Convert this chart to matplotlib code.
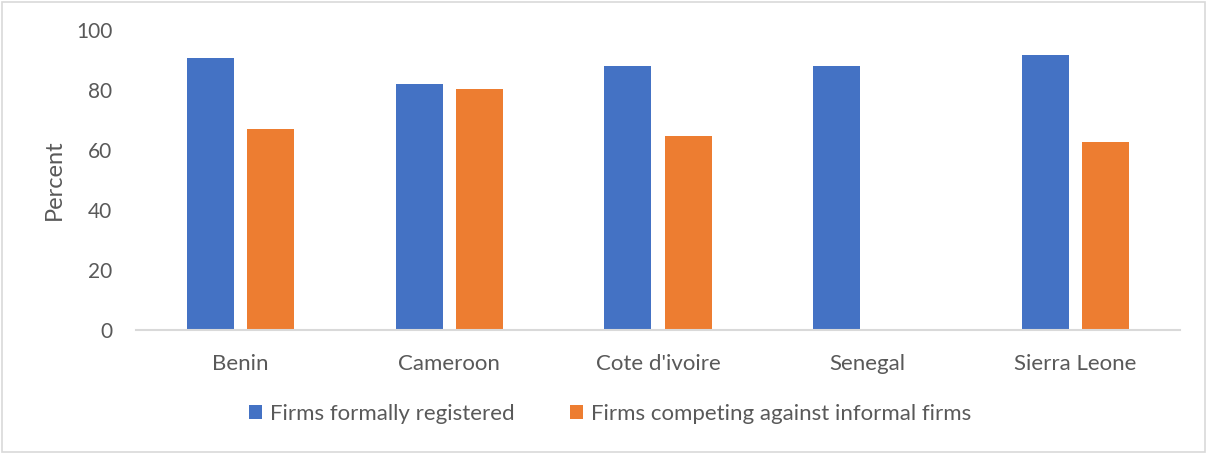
import numpy as np
import matplotlib.pyplot as plt
from matplotlib.patches import Rectangle

countries = ["Benin", "Cameroon", "Cote d'ivoire", "Senegal", "Sierra Leone"]
registered = [90.8, 82.0, 88.0, 88.0, 91.5]
competing = [66.9, 80.3, 64.8, np.nan, 62.6]
labels = ["Firms formally registered", "Firms competing against informal firms"]

plt.rcParams['font.family'] = ['Lato', 'DejaVu Sans']
txt = '#595959'

fig = plt.figure(figsize=(12.07, 4.53), dpi=100)
ax = fig.add_axes([136/1207, 123/453, 1044/1207, 300/453])

x = np.arange(len(countries))
w = 0.225
ax.bar(x - 0.144, registered, w, color='#4472C4', label=labels[0])
ax.bar(x + 0.144, competing, w, color='#ED7D31', label=labels[1])

ax.set_xlim(-0.5, len(countries) - 0.5)
ax.set_ylim(0, 100)
ax.set_yticks(range(0, 101, 20))
ax.set_xticks(x)
ax.set_xticklabels(countries)
ax.tick_params(axis='both', length=0, colors=txt)
ax.tick_params(axis='x', pad=17, labelsize=16)
ax.tick_params(axis='y', pad=17, labelsize=15)
ax.set_ylabel('Percent', fontsize=17, color=txt, labelpad=8)

for s in ['top', 'right', 'left']:
    ax.spines[s].set_visible(False)
ax.spines['bottom'].set_color('#D9D9D9')
ax.spines['bottom'].set_linewidth(1.5)

fig.legend(loc='center', bbox_to_anchor=(610/1207, 1 - 414/453), ncol=2, frameon=False,
           fontsize=16, labelcolor=txt, handlelength=0.6, handleheight=0.6,
           handletextpad=0.35, columnspacing=2.5)

fig.patches.append(Rectangle((0.002, 0.003), 0.996, 0.993, transform=fig.transFigure,
                             fill=False, edgecolor='#D9D9D9', linewidth=1.2))

fig.savefig('out.png', dpi=100)
